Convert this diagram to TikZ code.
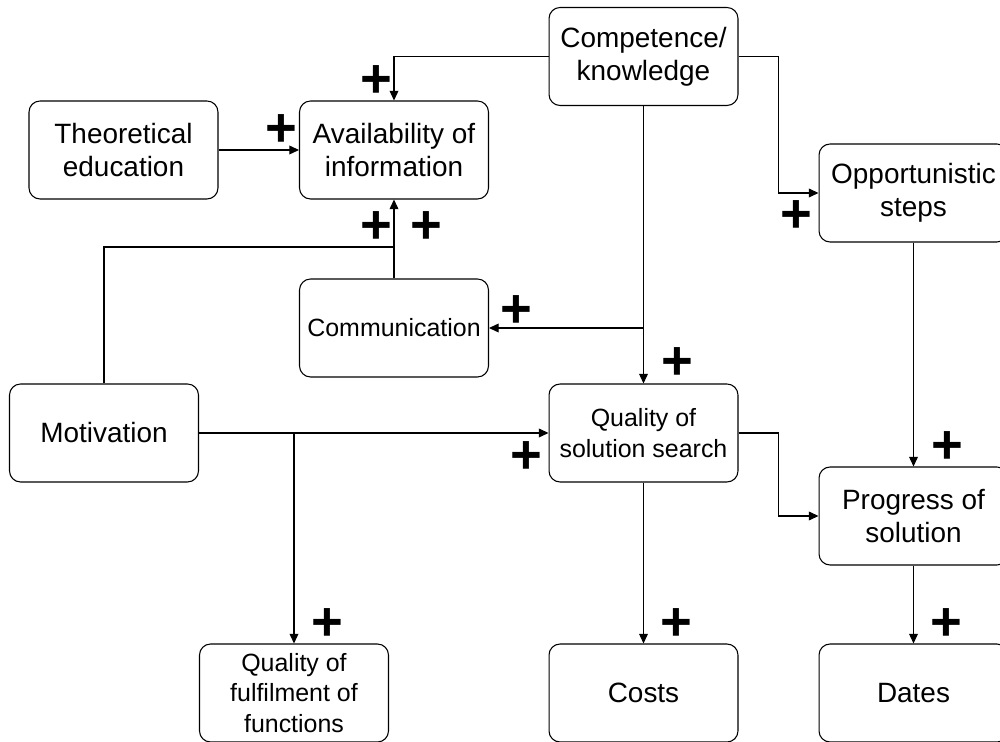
\documentclass[tikz,border=0pt]{standalone}
\usepackage{fontspec}
\setmainfont{Liberation Sans}
\usetikzlibrary{arrows.meta}
\begin{document}
\begin{tikzpicture}[x=0.02cm,y=-0.02cm,
box/.style={draw,line width=0.6pt,rounded corners=0.22cm,minimum width=3.78cm,minimum height=1.96cm,align=center,inner sep=1pt,font=\fontsize{15.9pt}{19pt}\selectfont},
small/.style={font=\fontsize{14.2pt}{17.5pt}\selectfont},
link/.style={line width=0.6pt,-{Triangle[length=5.5pt,width=5pt]}},
wire/.style={line width=0.6pt},
plus/.style={font=\fontsize{31pt}{31pt}\selectfont\bfseries,inner sep=0pt}]
\useasboundingbox (0,0) rectangle (1000,742);
\clip (0,0) rectangle (1000,742);
\node[box] (comp) at (643.5,56.5) {Competence/\\knowledge};
\node[box] (theo) at (123.5,150) {Theoretical\\education};
\node[box] (avail) at (394,150) {Availability of\\information};
\node[box] (opp) at (913.5,193) {Opportunistic\\steps};
\node[box,small] (comm) at (394,328) {Communication};
\node[box] (mot) at (104,433) {Motivation};
\node[box,small] (solq) at (643.5,433) {Quality of\\solution search};
\node[box] (prog) at (913.5,516) {Progress of\\solution};
\node[box,small] (ful) at (294,693) {Quality of\\fulfilment of\\functions};
\node[box] (costs) at (643.5,693) {Costs};
\node[box] (dates) at (913.5,693) {Dates};
\coordinate (join) at (394,247);
\draw[link] (comp.west) -| (avail.north);
\draw[link] (theo.east) -- (avail.west);
\draw[link] (comp.east) -- ++(40,0) |- (opp.west);
\draw[link] (comp.south) -- (solq.north);
\draw[link] (comp.south |- comm.east) -- (comm.east);
\draw[wire] (mot.north) |- (join);
\draw[link] (comm.north) -- (avail.south);
\draw[link] (mot.east) -- (solq.west);
\draw[link] (mot.east -| ful.north) -- (ful.north);
\draw[link] (opp.south) -- (prog.north);
\draw[link] (solq.east) -- ++(40,0) |- (prog.west);
\draw[link] (solq.south) -- (costs.north);
\draw[link] (prog.south) -- (dates.north);
% signs
\foreach \px/\py/\n in {376/82/a,281/131/b,796/217/c,376/228/d,426/228/e,516/312/f,677/364/g,526/458/h,947/448/i,327/625/j,676/625/k,946/625/l}{
\node[plus] (plus\n) at (\px,\py) {+};
}
\end{tikzpicture}
\end{document}
